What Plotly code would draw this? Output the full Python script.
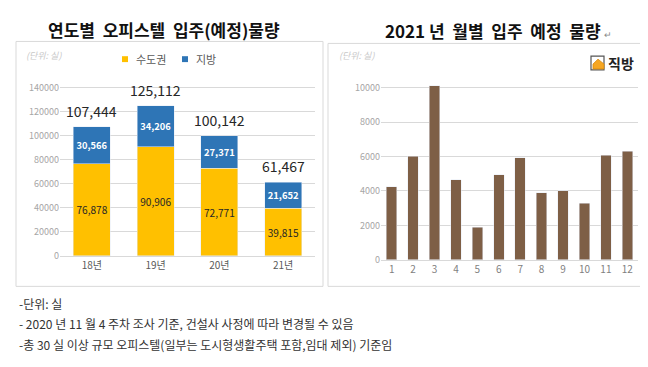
import plotly.graph_objects as go

W, H = 648, 367

# ---- data ----
years = ["18년", "19년", "20년", "21년"]
capital = [76878, 90906, 72771, 39815]
regional = [30566, 34206, 27371, 21652]
totals = [c + r for c, r in zip(capital, regional)]

months = ["1", "2", "3", "4", "5", "6", "7", "8", "9", "10", "11", "12"]
monthly = [4250, 6020, 10100, 4660, 1900, 4950, 5920, 3900, 4000, 3290, 6080, 6300]

left_ticks = [0, 20000, 40000, 60000, 80000, 100000, 120000, 140000]
right_ticks = [0, 2000, 4000, 6000, 8000, 10000]

notes = [
    "-단위: 실",
    "- 2020 년 11 월 4 주차 조사 기준, 건설사 사정에 따라 변경될 수 있음",
    "-총 30 실 이상 규모 오피스텔(일부는 도시형생활주택 포함,임대 제외) 기준임",
]


def px(x):
    return x / W


def py(y):
    return 1 - y / H


FONT = "Noto Sans CJK KR"
YELLOW = "#FFC000"
BLUE = "#2E75B6"
BROWN = "#7E5F46"
GRID = "#D9D9D9"
TICK = "#A6A6A6"

fig = go.Figure()

fig.add_trace(go.Bar(
    x=years, y=capital, name="수도권", marker_color=YELLOW,
    xaxis="x", yaxis="y",
    texttemplate="%{y:,}", textposition="inside", insidetextanchor="middle",
    textangle=0,
    textfont=dict(family=FONT, size=11, color="#262626"),
    showlegend=False,
))
fig.add_trace(go.Bar(
    x=years, y=regional, name="지방", marker_color=BLUE,
    xaxis="x", yaxis="y",
    texttemplate="<b>%{y:,}</b>", textposition="inside", insidetextanchor="middle",
    textangle=0,
    textfont=dict(family=FONT, size=11, color="white"),
    showlegend=False,
))
fig.add_trace(go.Bar(
    x=months, y=monthly, marker_color=BROWN, width=0.49,
    xaxis="x2", yaxis="y2", showlegend=False,
))

annotations = []
for yr, t in zip(years, totals):
    annotations.append(dict(
        x=yr, y=t, xref="x", yref="y", text=f"{t:,}", showarrow=False,
        yanchor="bottom", yshift=4,
        font=dict(family=FONT, size=14, color="#262626"),
    ))

# titles
annotations.append(dict(
    x=px(156), y=py(22), xref="paper", yref="paper",
    text="<b>연도별  오피스텔  입주(예정)물량</b>", showarrow=False,
    xanchor="center", yanchor="middle",
    font=dict(family=FONT, size=17, color="#111111"),
))
annotations.append(dict(
    x=px(490), y=py(23), xref="paper", yref="paper",
    text="<b>2021 년  월별  입주  예정  물량</b> <span style='font-size:9px;color:#888'>↵</span>",
    showarrow=False, xanchor="center", yanchor="middle",
    font=dict(family=FONT, size=17, color="#111111"),
))

# unit labels
for x0 in (16, 329):
    annotations.append(dict(
        x=px(x0), y=py(48), xref="paper", yref="paper",
        text="<i>(단위: 실)</i>", showarrow=False,
        xanchor="left", yanchor="middle",
        font=dict(family=FONT, size=9, color="#C8C8C8"),
    ))

# legend (manual)
annotations.append(dict(
    x=px(126), y=py(52), xref="paper", yref="paper", text="수도권",
    showarrow=False, xanchor="left", yanchor="middle",
    font=dict(family=FONT, size=11, color="#595959"),
))
annotations.append(dict(
    x=px(186), y=py(52), xref="paper", yref="paper", text="지방",
    showarrow=False, xanchor="left", yanchor="middle",
    font=dict(family=FONT, size=11, color="#595959"),
))

# logo text
annotations.append(dict(
    x=px(598), y=py(56), xref="paper", yref="paper", text="<b>직방</b>",
    showarrow=False, xanchor="left", yanchor="middle",
    font=dict(family=FONT, size=14, color="#222222"),
))

# notes
for i, line in enumerate(notes):
    annotations.append(dict(
        x=px(9), y=py(300 + i * 21), xref="paper", yref="paper", text=line,
        showarrow=False, xanchor="left", yanchor="middle",
        font=dict(family=FONT, size=12, color="#333333"),
    ))

shapes = [
    # panel boxes
    dict(type="rect", xref="paper", yref="paper",
         x0=px(8), x1=px(315), y0=py(283), y1=py(34),
         line=dict(color=GRID, width=1), layer="below"),
    dict(type="rect", xref="paper", yref="paper",
         x0=px(320), x1=px(643), y0=py(283), y1=py(36),
         line=dict(color=GRID, width=1), layer="below"),
    # legend squares
    dict(type="rect", xref="paper", yref="paper",
         x0=px(114), x1=px(120), y0=py(49), y1=py(55),
         fillcolor=YELLOW, line=dict(width=0)),
    dict(type="rect", xref="paper", yref="paper",
         x0=px(174), x1=px(180), y0=py(49), y1=py(55),
         fillcolor=BLUE, line=dict(width=0)),
    # logo icon
    dict(type="rect", xref="paper", yref="paper",
         x0=px(583), x1=px(596), y0=py(63), y1=py(49),
         fillcolor="white", line=dict(color="#555555", width=1.2)),
    dict(type="path", xref="paper", yref="paper",
         path=f"M {px(585)},{py(62)} L {px(585)},{py(57)} L {px(590)},{py(52)} "
              f"L {px(596)},{py(57)} L {px(596)},{py(62)} Z",
         fillcolor="#F5A623", line=dict(color="#D98A0B", width=0.8)),
]

fig.update_layout(
    width=W, height=H,
    margin=dict(l=0, r=0, t=0, b=0),
    paper_bgcolor="white", plot_bgcolor="white",
    barmode="stack", bargap=0.42,
    uniformtext=dict(minsize=11, mode="show"),
    font=dict(family=FONT),
    xaxis=dict(domain=[px(52), px(307)], anchor="y",
               tickfont=dict(family=FONT, size=10, color="#595959"),
               showline=True, linecolor=GRID, ticks="", showgrid=False),
    yaxis=dict(domain=[py(252), py(56.6)], anchor="x", range=[0, 160000],
               tickvals=left_ticks, ticktext=[str(v) for v in left_ticks],
               tickfont=dict(family=FONT, size=9, color=TICK),
               gridcolor=GRID, zeroline=False, ticks="", showline=False),
    xaxis2=dict(domain=[px(373), px(630)], anchor="y2",
                tickfont=dict(family=FONT, size=10, color="#7F7F7F"),
                showline=True, linecolor=GRID, ticks="", showgrid=False),
    yaxis2=dict(domain=[py(256), py(46)], anchor="x2", range=[0, 12000],
                tickvals=right_ticks, ticktext=[str(v) for v in right_ticks],
                tickfont=dict(family=FONT, size=9, color=TICK),
                gridcolor=GRID, zeroline=False, ticks="", showline=False),
    annotations=annotations,
    shapes=shapes,
)

fig.write_html("out.html")
